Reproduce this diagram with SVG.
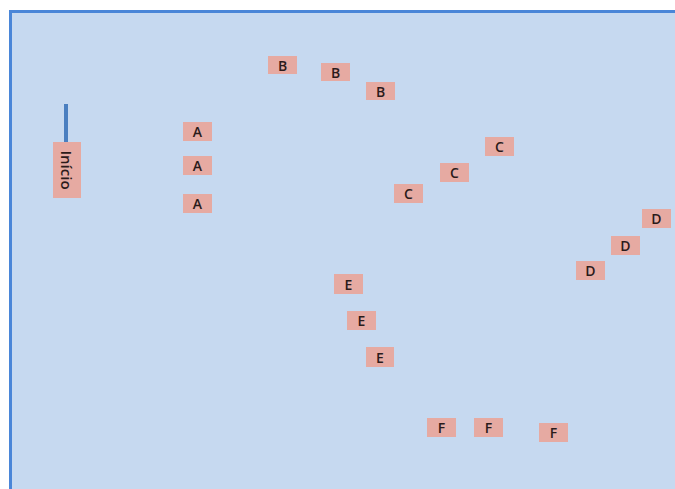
<svg xmlns="http://www.w3.org/2000/svg" width="675" height="489" viewBox="0 0 675 489">
<style>
.bg{fill:#c6d9f0}
.edge{stroke:#4a86d8;stroke-width:3;fill:none}
.lb rect{fill:#e6aaa2}
.lb text{font-family:"Open Sans","Liberation Sans",sans-serif;font-size:14px;font-weight:600;fill:#2b1b1b;text-anchor:middle;dominant-baseline:central}
.conn{stroke:#4a7fc0;stroke-width:4;fill:none}
</style>
<rect x="0" y="0" width="675" height="489" fill="#ffffff"/>
<rect class="bg" x="11" y="11" width="664" height="478"/>
<path class="edge" d="M10.5,489 V11.5 H675"/>
<g id="connectors">
<line class="conn" x1="66" y1="104" x2="66" y2="142"/>
</g>
<g id="inicio" class="lb"><rect x="53" y="142" width="28" height="56"/><text transform="translate(67,170) rotate(90)" style="font-size:15px">Início</text></g>
<g id="A1" class="lb"><rect x="183" y="122" width="29" height="19"/><text x="197.5" y="131.5">A</text></g>
<g id="A2" class="lb"><rect x="183" y="156" width="29" height="19"/><text x="197.5" y="165.5">A</text></g>
<g id="A3" class="lb"><rect x="183" y="194" width="29" height="19"/><text x="197.5" y="203.5">A</text></g>
<g id="B1" class="lb"><rect x="268" y="56" width="29" height="18"/><text x="282.5" y="65">B</text></g>
<g id="B2" class="lb"><rect x="321" y="63" width="29" height="18"/><text x="335.5" y="72">B</text></g>
<g id="B3" class="lb"><rect x="366" y="82" width="29" height="18"/><text x="380.5" y="91">B</text></g>
<g id="C1" class="lb"><rect x="485" y="137" width="29" height="19"/><text x="499.5" y="146.5">C</text></g>
<g id="C2" class="lb"><rect x="440" y="163" width="29" height="19"/><text x="454.5" y="172.5">C</text></g>
<g id="C3" class="lb"><rect x="394" y="184" width="29" height="19"/><text x="408.5" y="193.5">C</text></g>
<g id="D1" class="lb"><rect x="642" y="209" width="29" height="19"/><text x="656.5" y="218.5">D</text></g>
<g id="D2" class="lb"><rect x="611" y="236" width="29" height="19"/><text x="625.5" y="245.5">D</text></g>
<g id="D3" class="lb"><rect x="576" y="261" width="29" height="19"/><text x="590.5" y="270.5">D</text></g>
<g id="E1" class="lb"><rect x="334" y="274" width="29" height="20"/><text x="348.5" y="284">E</text></g>
<g id="E2" class="lb"><rect x="347" y="311" width="29" height="19"/><text x="361.5" y="320.5">E</text></g>
<g id="E3" class="lb"><rect x="366" y="347" width="28" height="20"/><text x="380" y="357">E</text></g>
<g id="F1" class="lb"><rect x="427" y="418" width="29" height="19"/><text x="441.5" y="427.5">F</text></g>
<g id="F2" class="lb"><rect x="474" y="418" width="29" height="19"/><text x="488.5" y="427.5">F</text></g>
<g id="F3" class="lb"><rect x="539" y="423" width="29" height="19"/><text x="553.5" y="432.5">F</text></g>
</svg>
